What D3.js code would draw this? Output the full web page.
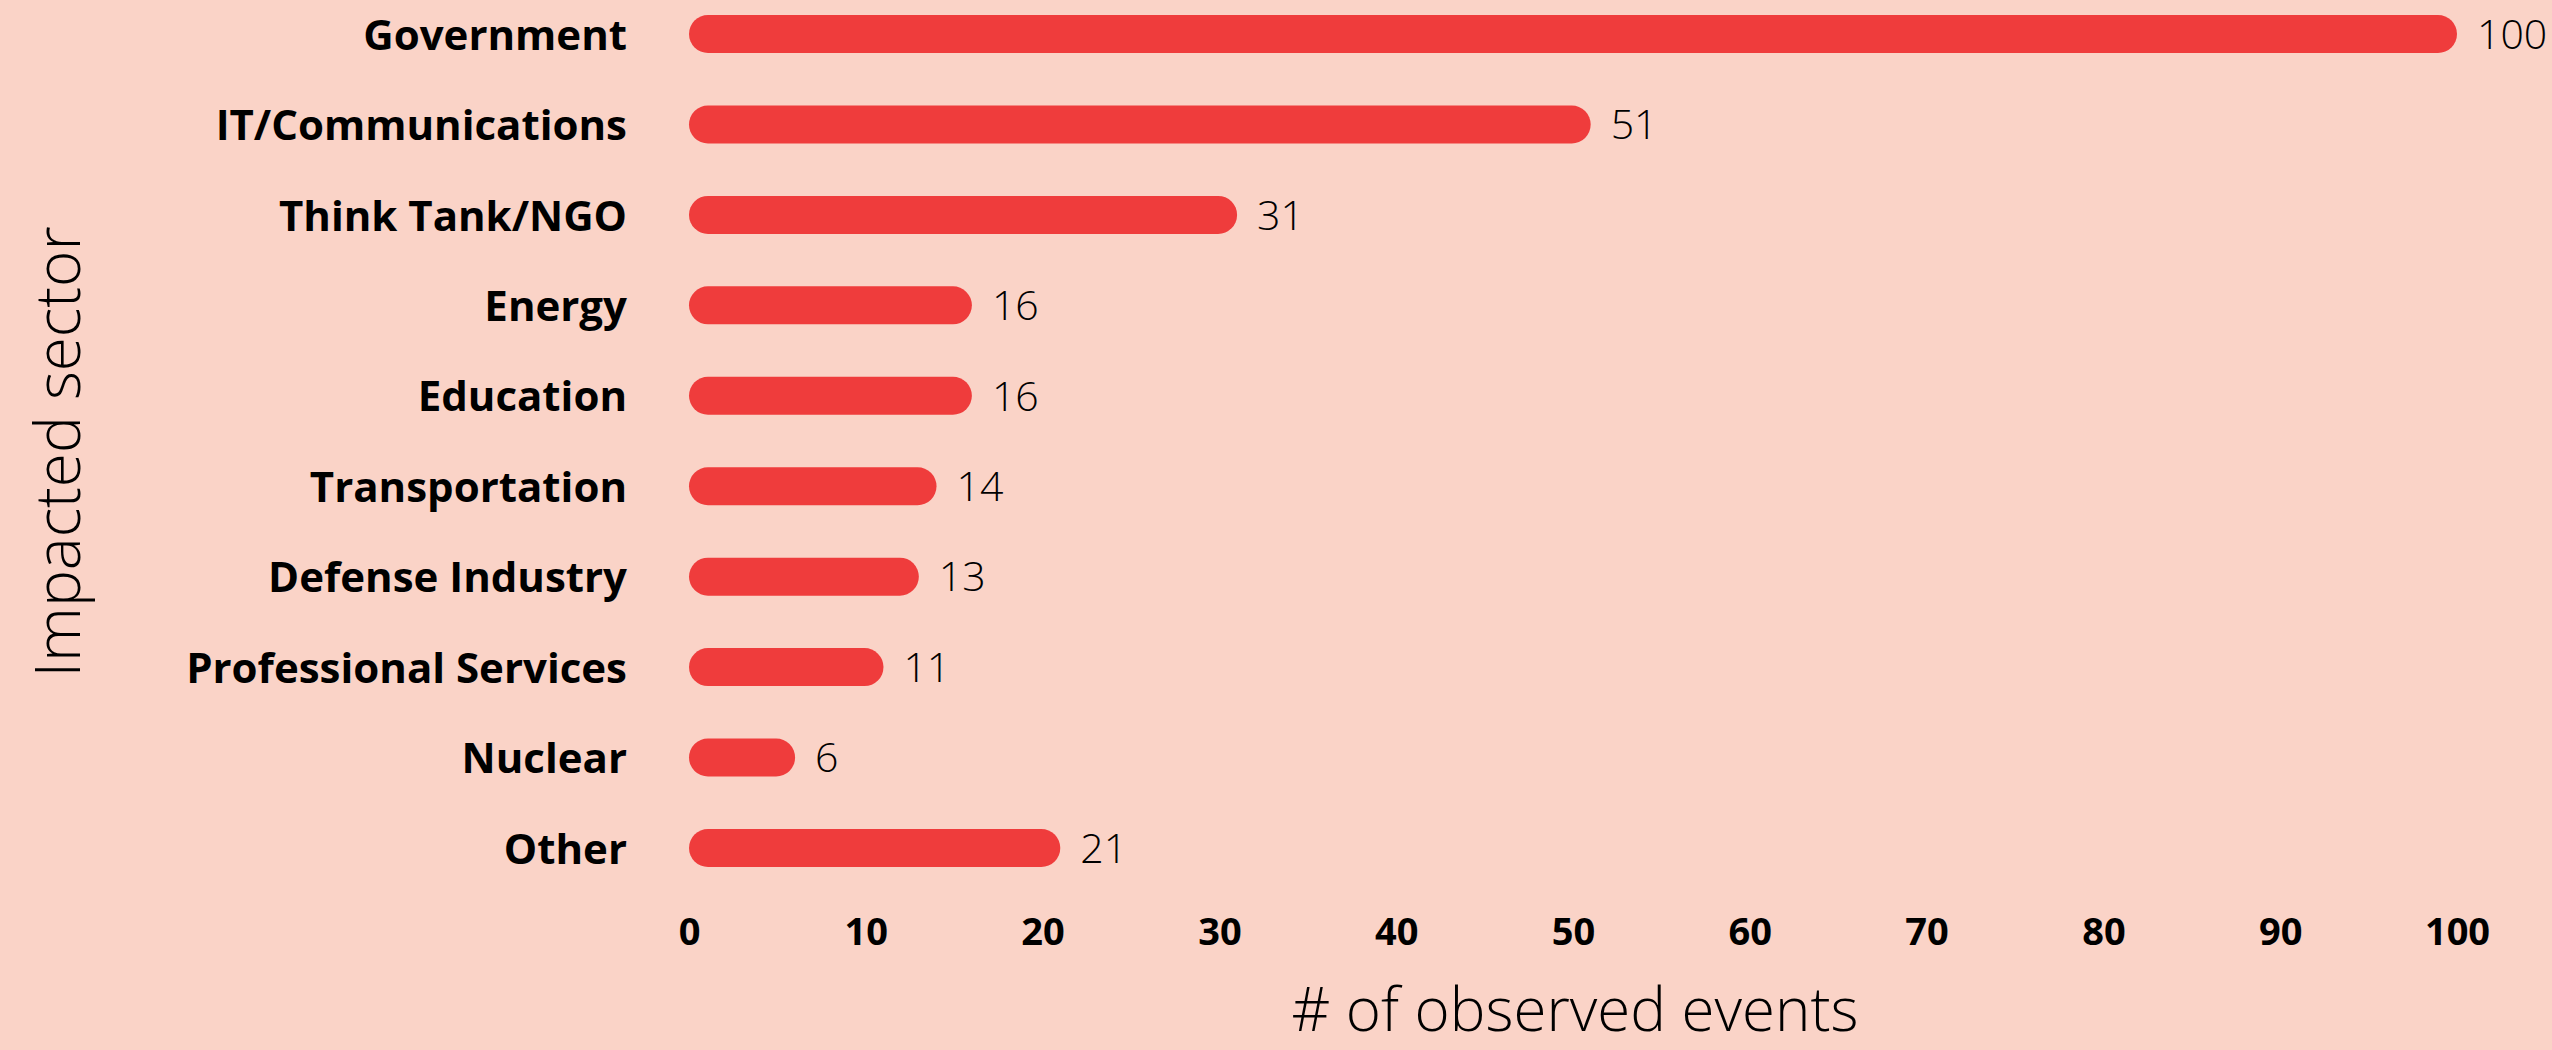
<!DOCTYPE html>
<html>
<head>
<meta charset="utf-8">
<script src="https://cdn.jsdelivr.net/npm/d3@7"></script>
<style>
	html, body { margin: 0; padding: 0; background: #fad3c7; }
	svg { display: block; font-family: 'Open Sans', 'Noto Sans', sans-serif; }
</style>
</head>
<body>
<svg id="chart" width="2552" height="1050"></svg>
<script>
const sectors = [
	'Government',
	'IT/Communications',
	'Think Tank/NGO',
	'Energy',
	'Education',
	'Transportation',
	'Defense Industry',
	'Professional Services',
	'Nuclear',
	'Other'
];
const events = [100, 51, 31, 16, 16, 14, 13, 11, 6, 21];
const xTicks = [0, 10, 20, 30, 40, 50, 60, 70, 80, 90, 100];

const BAR_H = 38;
const BAR_COLOR = '#ef3c3c';

const svg = d3.select('#chart');

const x = d3.scaleLinear().domain([0, 100]).range([689, 2457]);
const y = d3.scalePoint().domain(sectors).range([34, 848]);

const rows = sectors.map((s, i) => ({ sector: s, value: events[i] }));

// bars with round caps
svg.append('g')
	.selectAll('rect')
	.data(rows)
	.enter()
	.append('rect')
	.attr('x', x(0))
	.attr('y', d => y(d.sector) - BAR_H / 2)
	.attr('width', d => x(d.value) - x(0))
	.attr('height', BAR_H)
	.attr('rx', BAR_H / 2)
	.attr('fill', BAR_COLOR);

// value labels
svg.append('g')
	.selectAll('text')
	.data(rows)
	.enter()
	.append('text')
	.attr('x', d => x(d.value) + 20)
	.attr('y', d => y(d.sector))
	.attr('dy', '0.36em')
	.attr('font-size', 41)
	.attr('font-weight', 300)
	.attr('fill', '#000')
	.text(d => d.value);

// category labels
const yAxis = d3.axisLeft(y).tickSize(0).tickPadding(0);
const gy = svg.append('g')
	.attr('transform', 'translate(627,0)')
	.call(yAxis);
gy.select('.domain').remove();
gy.selectAll('text')
	.attr('font-family', "'Open Sans', sans-serif")
	.attr('font-size', 42)
	.attr('font-weight', 700)
	.attr('fill', '#000')
	.attr('dy', '0.36em');

// x axis ticks
const xAxis = d3.axisBottom(x).tickValues(xTicks).tickSize(0).tickPadding(0);
const gx = svg.append('g')
	.attr('transform', 'translate(0,932)')
	.call(xAxis);
gx.select('.domain').remove();
gx.selectAll('text')
	.attr('font-family', "'Open Sans', sans-serif")
	.attr('font-size', 38)
	.attr('font-weight', 700)
	.attr('fill', '#000')
	.attr('dy', '0.35em');

// axis titles
svg.append('text')
	.attr('x', 1575)
	.attr('y', 1031)
	.attr('text-anchor', 'middle')
	.attr('font-size', 60)
	.attr('font-weight', 300)
	.text('# of observed events');

svg.append('text')
	.attr('transform', 'translate(80,452) rotate(-90)')
	.attr('text-anchor', 'middle')
	.attr('font-size', 62)
	.attr('font-weight', 300)
	.text('Impacted sector');
</script>
</body>
</html>
